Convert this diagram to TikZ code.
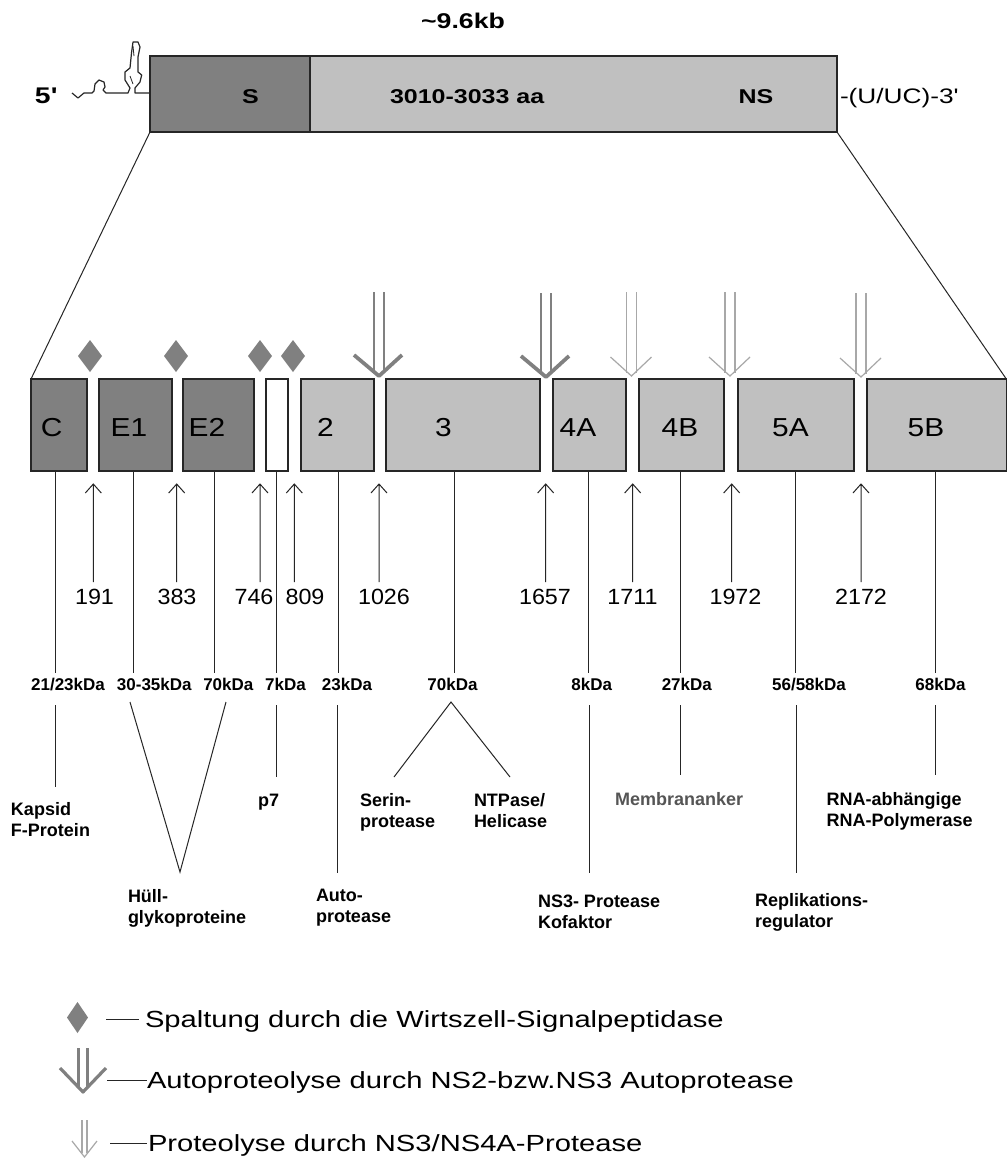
\documentclass[tikz,border=0pt]{standalone}
\usepackage{fontspec}
\setmainfont{Liberation Sans}
\newfontfamily\widefont[FakeStretch=1.25]{Liberation Sans}
\newfontfamily\midfont[FakeStretch=1.15]{Liberation Sans}
\newfontfamily\numfam[FakeStretch=1.06]{Liberation Sans}
\definecolor{dgray}{HTML}{808080}
\definecolor{lgray}{HTML}{C0C0C0}
\definecolor{agray}{HTML}{A8A8A8}
\definecolor{edge}{HTML}{262626}
\definecolor{mgray}{HTML}{555555}
\newcommand\myboxf{\midfont\fontsize{19.5}{22}\selectfont}
\newcommand\mynumf{\numfam\fontsize{16.5}{19}\selectfont}
\newcommand\mylegf{\widefont\fontsize{17.5}{20}\selectfont}
\newcommand\mytopf{\widefont\bfseries\fontsize{15}{18}\selectfont}
\newcommand\mykdaf{\bfseries\fontsize{12.75}{15}\selectfont}
\newcommand\mylabf{\bfseries\fontsize{13.5}{15.75}\selectfont}
\begin{document}
\begin{tikzpicture}[x=0.75pt,y=-0.75pt,
  seg/.style={draw=edge, line width=0.9pt},
  ln/.style={draw=edge, line width=0.75pt},
  txt/.style={inner sep=0pt, outer sep=0pt},
  bigarr/.pic={
    \draw[dgray, line width=2.2pt] (-5,-84) -- (-5,-5) (5,-84) -- (5,-5);
    \draw[dgray, line width=2.8pt, line join=round] (-25,-21) -- (0,0) -- (23,-21);
  },
  thinarr/.pic={
    \draw[agray, line width=0.9pt] (-5,-84) -- (-5,-3) (5,-84) -- (5,-3);
    \draw[agray, line width=0.9pt] (-21,-19) -- (0,0) -- (20,-19);
  }]
\useasboundingbox (0,0) rectangle (1007,1161);
\fill[white] (0,0) rectangle (1007,1161);

% ---------- top polyprotein bar ----------
\node[txt, anchor=base, font=\widefont\bfseries\fontsize{16}{19}\selectfont] (kb) at (463,28) {\textasciitilde 9.6kb};
\draw[seg, fill=dgray] (150,56) rectangle (310,132);
\draw[seg, fill=lgray] (310,56) rectangle (837,132);
\node[txt, anchor=base west, font=\widefont\bfseries\fontsize{17}{20}\selectfont] (five) at (35,103) {5'};
\node[txt, anchor=base, font=\mytopf] (Slab) at (250.5,103) {S};
\node[txt, anchor=base west, font=\mytopf] (aa) at (390,103) {3010-3033 aa};
\node[txt, anchor=base, font=\mytopf] (NSlab) at (756,103) {NS};
\node[txt, anchor=base west, font=\widefont\fontsize{15.75}{18}\selectfont] (three) at (840,103) {-(U/UC)-3'};

% 5' UTR structure
\draw[edge, line width=0.9pt, line join=round]
  (72,93) -- (78,98) -- (84,93) -- (92,93) -- (94,91) -- (95,84) -- (99,80) -- (104,82)
  -- (105,87) -- (103,90) -- (106,93) -- (128,93) -- (130,88) -- (125,80) -- (125,72)
  -- (130,68) -- (131.5,53) -- (133,42) -- (138,42) -- (140,47) -- (138,57) -- (138,72)
  -- (141.7,75) -- (140,82) -- (135,88) -- (135,93) -- (150,93);
\draw[edge, line width=0.6pt] (133,46) -- (134,56) (130,76) -- (133,84);

% expansion lines
\draw[ln] (150,132) -- (31,379);
\draw[ln] (837,132) -- (1006.3,379);

% ---------- protein segments ----------
\draw[seg, fill=dgray] (31,379) rectangle (87,471);
\draw[seg, fill=dgray] (99,379) rectangle (172,471);
\draw[seg, fill=dgray] (183,379) rectangle (254,471);
\draw[seg, fill=white] (266,379) rectangle (288,471);
\draw[seg, fill=lgray] (301,379) rectangle (374,471);
\draw[seg, fill=lgray] (386,379) rectangle (540,471);
\draw[seg, fill=lgray] (553,379) rectangle (626,471);
\draw[seg, fill=lgray] (639,379) rectangle (724,471);
\draw[seg, fill=lgray] (738,379) rectangle (854,471);
\draw[seg, fill=lgray] (867,379) rectangle (1006.3,471);

\foreach \x/\t/\n in {51.7/C/bC, 129/E1/bE1, 207/E2/bE2, 325.5/2/bNS2, 443.5/3/bNS3,
                      578/4A/bNSfA, 680/4B/bNSfB, 790.5/5A/bNSvA, 926/5B/bNSvB}
  \node[txt, anchor=base, font=\myboxf] (\n) at (\x,436) {\t};

% signal peptidase diamonds
\foreach \x in {90,176,260,293}
  \fill[dgray] (\x,340) -- (\x+12,356) -- (\x,372) -- (\x-12,356) -- cycle;

% protease arrows
\pic at (379,376) {bigarr};
\pic at (546,377) {bigarr};
\pic at (631.5,376) {thinarr};
\pic at (730,376) {thinarr};
\pic at (861,377) {thinarr};

% ---------- cleavage positions ----------
\foreach \x in {93.3,176.7,260,294.3,379,545.7,632.7,731.7,861}
  \draw[ln] (\x,582) -- (\x,484) (\x-8,493) -- (\x,484) -- (\x+8,493);

\foreach \x/\t in {94.5/191, 177/383, 254/746, 305/809, 384/1026, 545/1657,
                   632.5/1711, 735.5/1972, 861/2172}
  \node[txt, anchor=base, font=\mynumf] (n\t) at (\x,604) {\t};

% vertical lines segment -> mass
\foreach \x in {55,133,214,276,338,454,588,680,795,935}
  \draw[ln] (\x,471) -- (\x,673);

\foreach \x/\t/\n in {68/{21/23kDa}/kC, 154.3/{30-35kDa}/kEa, 228.3/{70kDa}/kEb, 285.5/{7kDa}/kp,
                      347/{23kDa}/kNb, 452.5/{70kDa}/kNc, 591.7/{8kDa}/kNd, 686.8/{27kDa}/kNe,
                      809/{56/58kDa}/kNf, 940.5/{68kDa}/kNg}
  \node[txt, anchor=base, font=\mykdaf] (\n) at (\x,690.7) {\t};

% ---------- lower connectors ----------
\draw[ln] (55,705) -- (55,787);
\draw[ln] (130,702) -- (180,872) -- (226,702);
\draw[ln] (276,705) -- (276,777);
\draw[ln] (337,705) -- (337,873);
\draw[ln] (394,777) -- (451,702) -- (510,777);
\draw[ln] (589,705) -- (589,873);
\draw[ln] (680,705) -- (680,775);
\draw[ln] (796,705) -- (796,873);
\draw[ln] (935,705) -- (935,775);

% ---------- function labels ----------
\node[txt, anchor=north west, align=left, font=\mylabf] (lC) at (11,802.8) {Kapsid\\F-Protein};
\node[txt, anchor=north west, align=left, font=\mylabf] (lE) at (128,889) {Hüll-\\glykoproteine};
\node[txt, anchor=north west, align=left, font=\mylabf] (lp) at (258,793.8) {p7};
\node[txt, anchor=north west, align=left, font=\mylabf] (lN2) at (316,889) {Auto-\\protease};
\node[txt, anchor=north west, align=left, font=\mylabf] (lS) at (360,793.8) {Serin-\\protease};
\node[txt, anchor=north west, align=left, font=\mylabf] (lH) at (474,793.8) {NTPase/\\Helicase};
\node[txt, anchor=north west, align=left, font=\mylabf] (lA) at (538,895) {NS3- Protease\\Kofaktor};
\node[txt, anchor=north west, align=left, font=\mylabf, text=mgray] (lB) at (615,792) {Membrananker};
\node[txt, anchor=north west, align=left, font=\mylabf] (l5A) at (755,893.5) {Replikations-\\regulator};
\node[txt, anchor=north west, align=left, font=\mylabf] (l5B) at (826.7,792) {RNA-abhängige\\RNA-Polymerase};

% ---------- legend ----------
\fill[dgray] (77.5,1002) -- (88,1017.5) -- (77.5,1033) -- (67,1017.5) -- cycle;
\draw[ln] (106,1019) -- (139,1019);
\node[txt, anchor=base west, font=\mylegf] (leg1) at (145,1027) {Spaltung durch die Wirtszell-Signalpeptidase};

\draw[dgray, line width=2pt] (78.5,1048) -- (78.5,1088) (87.5,1048) -- (87.5,1088);
\draw[dgray, line width=2.4pt, line join=round] (60,1068) -- (83,1092) -- (106,1068);
\draw[ln] (107,1080) -- (147,1080);
\node[txt, anchor=base west, font=\mylegf] (leg2) at (147,1088) {Autoproteolyse durch NS2-bzw.NS3 Autoprotease};

\draw[agray, line width=0.9pt] (82,1120) -- (82,1153) (87,1120) -- (87,1153);
\draw[agray, line width=0.9pt] (72,1141) -- (84.5,1157) -- (97,1141);
\draw[ln] (110,1143) -- (147,1143);
\node[txt, anchor=base west, font=\mylegf] (leg3) at (148,1151) {Proteolyse durch NS3/NS4A-Protease};
\end{tikzpicture}
\end{document}
